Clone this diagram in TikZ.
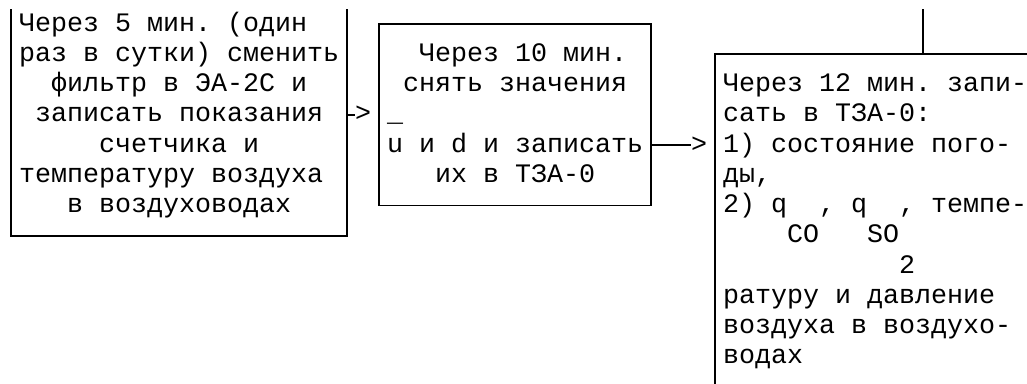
\documentclass[tikz,border=0pt]{standalone}
\usepackage{fontspec}
\newfontfamily\monofam{Liberation Mono}
\newcommand\txt[4]{\node (#1) at ({3+16*(#2)},{31+30.25*(#3)}) {#4};}
\begin{document}
\begin{tikzpicture}[x=1pt,y=-1pt,
  every node/.style={inner sep=0pt, outer sep=0pt, anchor=base west,
    font=\monofam\fontsize{26.67}{30.25}\selectfont\frenchspacing},
  border/.style={line width=1.7pt, line cap=butt, line join=miter, draw=black},
  boxnode/.style={border, anchor=north west, minimum width=#1},
]
\useasboundingbox (0,0) rectangle (1027,383);
% ---------- box 1 (open at the top) ----------
\coordinate (b1tl) at (11,9);
\coordinate (b1bl) at (11,236);
\coordinate (b1br) at (347,236);
\coordinate (b1tr) at (347,9);
\draw[border] (b1tl) -- (b1bl) -- (b1br) -- (b1tr);
% ---------- box 2 ----------
\node[boxnode=272pt, minimum height=181.5pt] (b2) at (379,24) {};
% ---------- box 3 (open at the right and bottom) ----------
\coordinate (b3tr) at (1028,54.25);
\coordinate (b3tl) at (715,54.25);
\coordinate (b3bl) at (715,384);
\draw[border] (b3tr) -- (b3tl) -- (b3bl);
\coordinate (up) at (923,9);
\coordinate (upj) at (923,54.25);
\draw[border] (up) -- (upj);
% ---------- arrows ----------
\coordinate (a1e) at (355,114.75);
\draw[border] (b1br |- a1e) -- (a1e);
\txt{a1h}{22}{3}{>}
\coordinate (a2e) at (691,145);
\draw[border] (b2.east |- a2e) -- (a2e);
\txt{a2h}{43}{4}{>}
% ---------- box 1 text ----------
\txt{t10}{1}{0}{Через 5 мин. (один}
\txt{t11}{1}{1}{раз в сутки) сменить}
\txt{t12}{3}{2}{фильтр в ЭА-2С и}
\txt{t13}{2}{3}{записать показания}
\txt{t14}{6}{4}{счетчика и}
\txt{t15}{1}{5}{температуру воздуха}
\txt{t16}{4}{6}{в воздуховодах}
% ---------- box 2 text ----------
\txt{t21}{26}{1}{Через 10 мин.}
\txt{t22}{25}{2}{снять значения}
\txt{t23}{24}{3}{\_}
\txt{t24}{24}{4}{u и d и записать}
\txt{t25}{27}{5}{их в ТЗА-0}
% ---------- box 3 text ----------
\txt{t32}{45}{2}{Через 12 мин. запи-}
\txt{t33}{45}{3}{сать в ТЗА-0:}
\txt{t34}{45}{4}{1) состояние пого-}
\txt{t35}{45}{5}{ды,}
\txt{t36a}{45}{6}{2) q}
\txt{t36b}{51}{6}{,}
\txt{t36c}{53}{6}{q}
\txt{t36d}{56}{6}{,}
\txt{t36e}{58}{6}{темпе-}
\txt{t37a}{49}{7}{CO}
\txt{t37b}{54}{7}{SO}
\txt{t38}{56}{8}{2}
\txt{t39}{45}{9}{ратуру и давление}
\txt{t310}{45}{10}{воздуха в воздухо-}
\txt{t311}{45}{11}{водах}
\end{tikzpicture}
\end{document}
